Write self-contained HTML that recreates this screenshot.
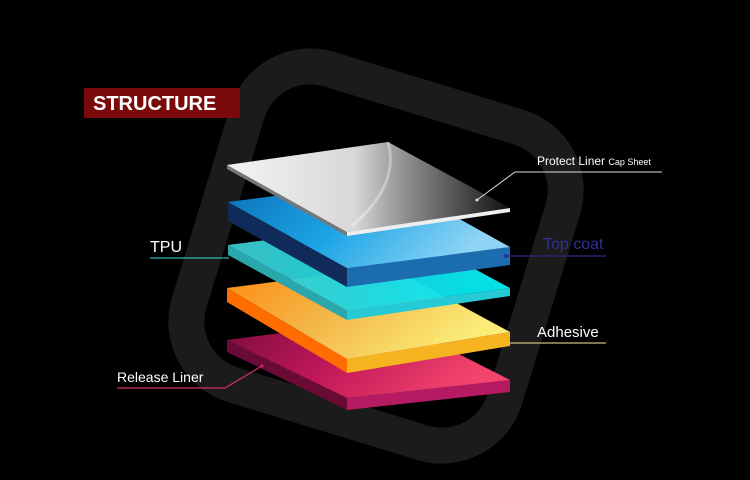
<!DOCTYPE html>
<html><head><meta charset="utf-8"><style>
html,body{margin:0;padding:0;background:#000;}
svg{display:block}
text{font-family:"Liberation Sans",sans-serif;}
</style></head><body>
<svg width="750" height="480" viewBox="0 0 750 480" xmlns="http://www.w3.org/2000/svg">
<defs>
<linearGradient id="sil" x1="0" y1="0" x2="1" y2="0"><stop offset="0" stop-color="#f4f4f4"/><stop offset="0.45" stop-color="#d8d8d8"/><stop offset="0.6" stop-color="#9a9a9a"/><stop offset="1" stop-color="#111"/></linearGradient>
<linearGradient id="blu" x1="0" y1="0" x2="1" y2="0.3"><stop offset="0" stop-color="#0c6fb8"/><stop offset="0.5" stop-color="#1ba5e6"/><stop offset="1" stop-color="#8fd4f5"/></linearGradient>
<linearGradient id="cya" x1="0" y1="0" x2="1" y2="0"><stop offset="0" stop-color="#3ec8cc"/><stop offset="0.6" stop-color="#12dcea"/><stop offset="1" stop-color="#00f0f4"/></linearGradient>
<linearGradient id="ora" x1="0" y1="0" x2="1" y2="0.4"><stop offset="0" stop-color="#ff8a10"/><stop offset="0.5" stop-color="#f3b84a"/><stop offset="1" stop-color="#fbec78"/></linearGradient>
<linearGradient id="pnk" x1="0" y1="0" x2="1" y2="0.3"><stop offset="0" stop-color="#7a0c3c"/><stop offset="0.5" stop-color="#c2185a"/><stop offset="1" stop-color="#f2446c"/></linearGradient>
</defs>
<rect width="750" height="480" fill="#000"/>
<rect x="211" y="91" width="330" height="330" rx="66" fill="none" stroke="#1b1b1b" stroke-width="36" transform="rotate(17 376 256)"/>
<rect x="84" y="88" width="156" height="30" fill="#7a0a0a"/>
<text x="93" y="110" font-size="20" font-weight="bold" fill="#fff">STRUCTURE</text>

<polygon points="227,340 347,398 347,410 227,352" fill="#6a0a36"/>
<polygon points="347,398 510,380 510,392 347,410" fill="#b51a62"/>
<polygon points="227,340 390,319 510,380 347,398" fill="url(#pnk)"/>
<polygon points="227,288 347,359 347,373 227,302" fill="#ff6d00"/>
<polygon points="347,359 510,332 510,346 347,373" fill="#f6b420"/>
<polygon points="227,288 390,267 510,332 347,359" fill="url(#ora)"/>
<polygon points="228,245 347,310 347,320 228,255" fill="#2aa6ad"/>
<polygon points="347,310 510,288 510,296 347,320" fill="#26c9d6"/>
<polygon points="228,245 391,224 510,288 347,310" fill="url(#cya)" opacity="0.95"/>
<polygon points="228,202 347,268 347,287 228,221" fill="#102a5a"/>
<polygon points="347,268 510,247 510,265 347,287" fill="#1c6db0"/>
<polygon points="228,202 391,181 510,247 347,268" fill="url(#blu)"/>
<polygon points="227,165 347,232 347,236 227,169" fill="#777"/>
<polygon points="347,232 510,208 510,212 347,236" fill="#eee"/>
<polygon points="227,165 388,142 510,208 347,232" fill="url(#sil)"/>
<path d="M388,142 Q400,185 352,226" fill="none" stroke="#ffffff" stroke-opacity="0.35" stroke-width="3"/>

<polyline points="477,200 515,172 662,172" fill="none" stroke="#ddd" stroke-width="1"/>
<circle cx="477" cy="200" r="1.5" fill="#ddd"/>
<text x="537" y="165" font-size="12" fill="#fff">Protect Liner <tspan font-size="9">Cap Sheet</tspan></text>

<line x1="506" y1="256" x2="606" y2="256" stroke="#2b2b8a" stroke-width="1.2"/>
<circle cx="506" cy="256" r="2" fill="#2b2b8a"/>
<text x="543" y="249" font-size="16" fill="#30309a">Top coat</text>

<line x1="150" y1="258" x2="229" y2="258" stroke="#2fb7b7" stroke-width="1.2"/>
<text x="150" y="252" font-size="16" fill="#fff">TPU</text>

<line x1="510" y1="343" x2="606" y2="343" stroke="#c7c07a" stroke-width="1.2"/>
<text x="537" y="337" font-size="15" fill="#fff">Adhesive</text>

<polyline points="117,388 225,388 262,366" fill="none" stroke="#d03060" stroke-width="1.2"/>
<circle cx="262" cy="366" r="1.5" fill="#d03060"/>
<text x="117" y="382" font-size="14" fill="#fff">Release Liner</text>
</svg>
</body></html>
